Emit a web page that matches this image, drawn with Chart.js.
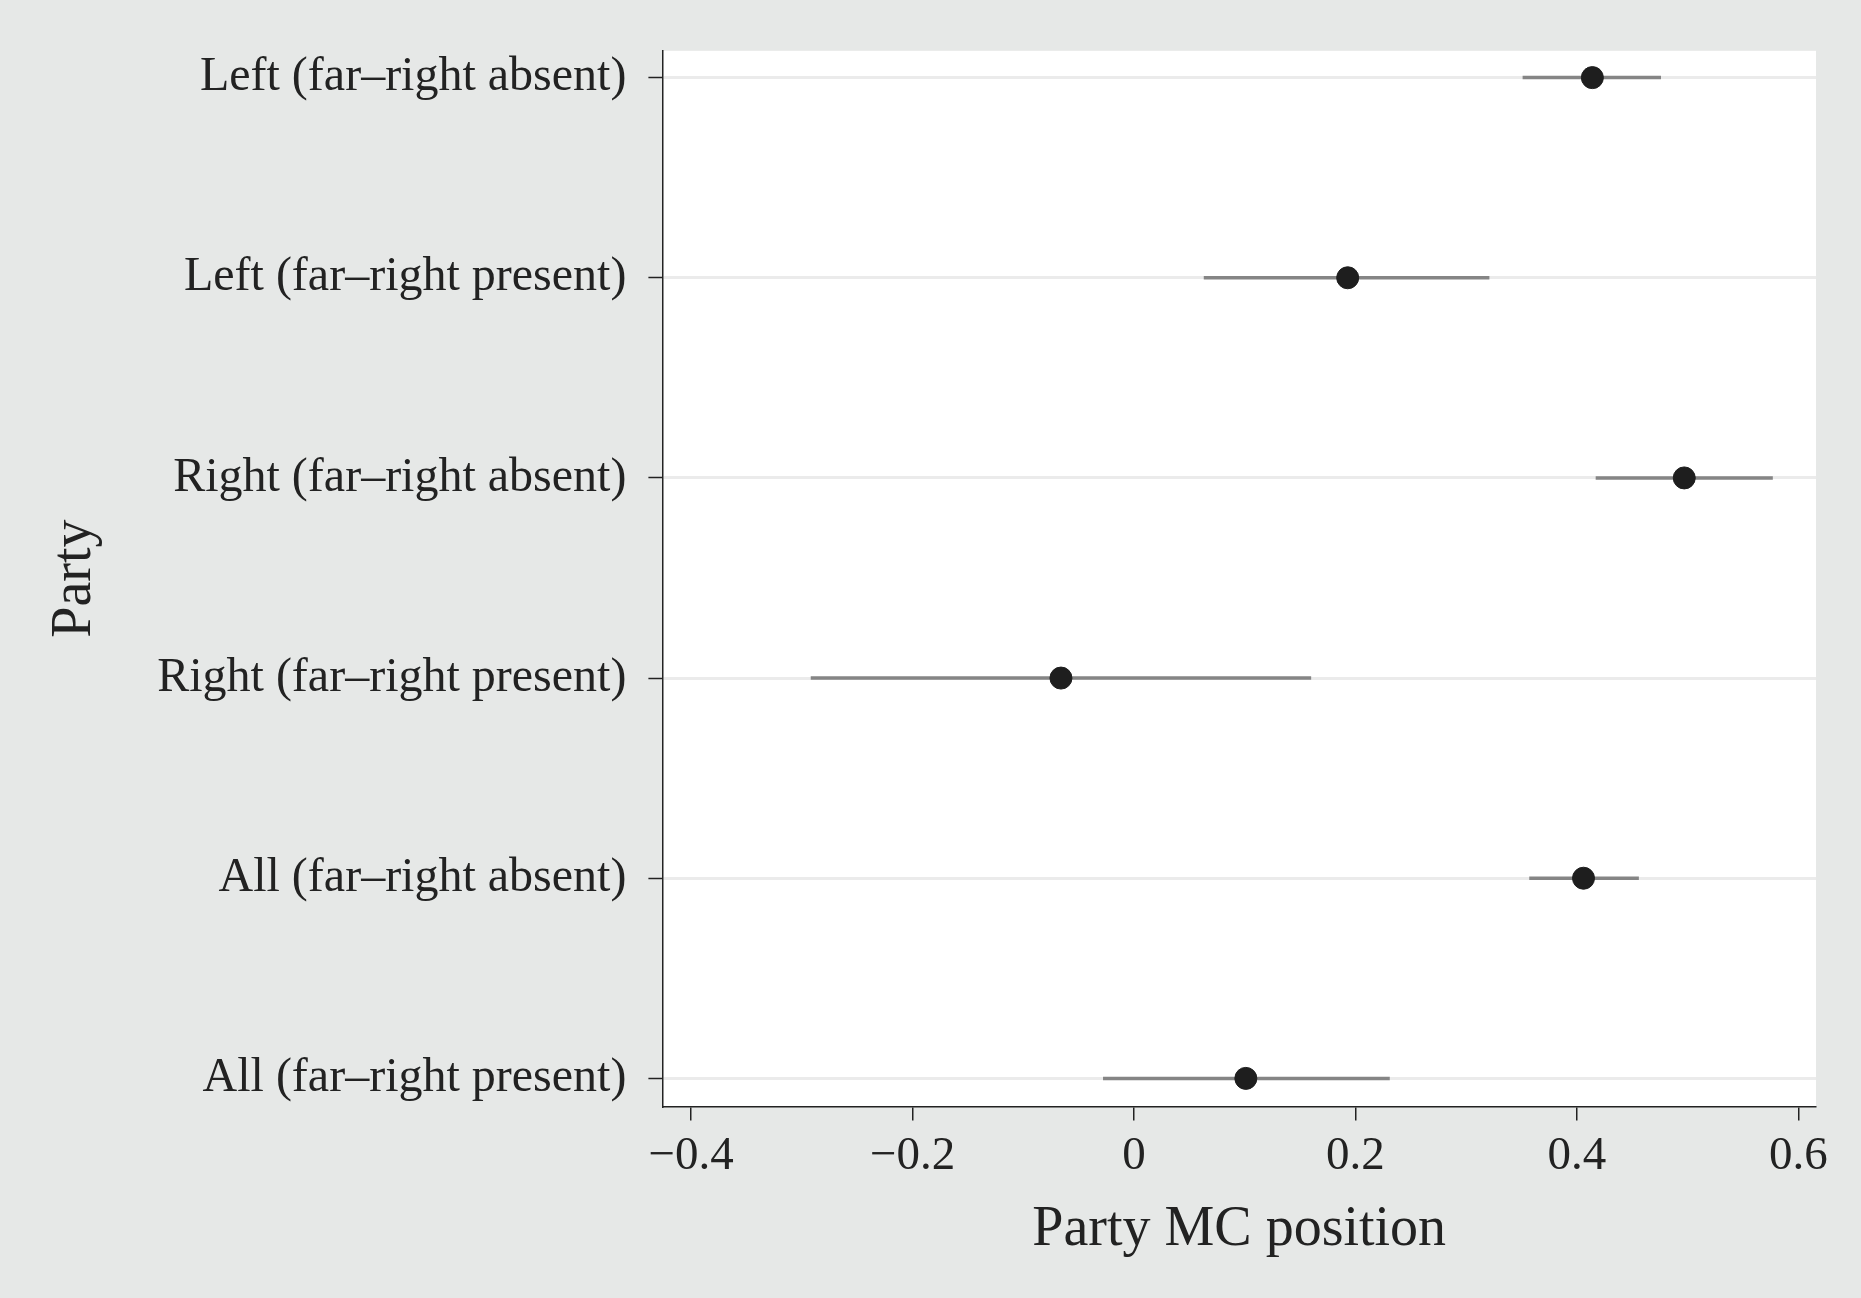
<!DOCTYPE html>
<html><head><meta charset="utf-8">
<script src="https://cdn.jsdelivr.net/npm/chart.js@4"></script>
<style>html,body{margin:0;padding:0;background:#e6e8e7;}#w{width:1861px;height:1298px;}</style>
</head><body><div id="w"><canvas id="c"></canvas></div>
<script>
const categories = ["Left (far\u2013right absent)","Left (far\u2013right present)","Right (far\u2013right absent)","Right (far\u2013right present)","All (far\u2013right absent)","All (far\u2013right present)"];
const estimates = [0.414, 0.193, 0.497, -0.066, 0.406, 0.101];
const lower = [0.351, 0.063, 0.417, -0.292, 0.357, -0.028];
const upper = [0.476, 0.321, 0.577, 0.160, 0.456, 0.231];
const xTicks = [-0.4,-0.2,0,0.2,0.4,0.6];

const plotBg = {id:'plotBg',beforeDraw(c){const a=c.chartArea,x=c.ctx;x.save();x.fillStyle='#fff';x.fillRect(a.left,a.top,a.right-a.left,a.bottom-a.top);x.restore();}};
const errBars = {id:'errBars',beforeDatasetsDraw(c){const xs=c.scales.x,ys=c.scales.y,x=c.ctx;x.save();x.strokeStyle='#858585';x.lineWidth=3.5;
 categories.forEach((_,i)=>{const y=ys.getPixelForValue(i);x.beginPath();x.moveTo(xs.getPixelForValue(lower[i]),y);x.lineTo(xs.getPixelForValue(upper[i]),y);x.stroke();});x.restore();}};

new Chart(document.getElementById('c'),{
 type:'scatter',
 data:{datasets:[{data:estimates.map((v,i)=>({x:v,y:i})),backgroundColor:'#1e1e1e',borderColor:'#1e1e1e',pointRadius:11,pointHoverRadius:11}]},
 options:{responsive:true,maintainAspectRatio:false,animation:false,
  layout:{padding:{top:45,right:45,bottom:30,left:38}},
  plugins:{legend:{display:false},tooltip:{enabled:false}},
  scales:{
   x:{type:'linear',min:-0.426,max:0.616,
     afterBuildTicks(s){s.ticks=xTicks.map(v=>({value:v}));},
     ticks:{color:'#222',font:{family:'Liberation Serif',size:47},padding:8,callback:v=>v===0?'0':(v<0?'\u2212'+Math.abs(v).toFixed(1):v.toFixed(1))},
     grid:{display:true,drawOnChartArea:false,drawTicks:true,tickLength:14,color:'#222',lineWidth:1.5},
     border:{display:true,color:'#222',width:1.5},
     title:{display:true,text:'Party MC position',color:'#222',font:{family:'Liberation Serif',size:56},padding:{top:4}}},
   y:{type:'linear',reverse:true,min:-0.134,max:5.14,
     afterBuildTicks(s){s.ticks=categories.map((_,i)=>({value:i}));},
     ticks:{color:'#222',font:{family:'Liberation Serif',size:48},padding:22,callback:v=>categories[v]},
     grid:{display:true,color:'#ebebeb',lineWidth:3,tickColor:'#222',tickLength:14,tickWidth:1.5},
     border:{display:true,color:'#222',width:1.5},
     title:{display:true,text:'Party',color:'#222',font:{family:'Liberation Serif',size:56},padding:{bottom:26}}}
  }},
 plugins:[plotBg,errBars]
});
</script></body></html>
